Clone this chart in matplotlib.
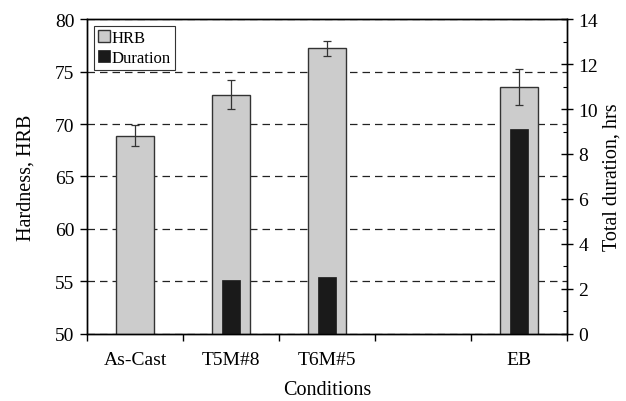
import matplotlib.pyplot as plt
import numpy as np
from matplotlib.ticker import MultipleLocator

plt.rcParams['font.family'] = ['Liberation Serif', 'DejaVu Serif']

# data
conditions = ['As-Cast', 'T5M#8', 'T6M#5', '', 'EB']
hrb = [68.9, 72.8, 77.2, np.nan, 73.5]
hrb_err = [1.0, 1.4, 0.7, np.nan, 1.7]
duration = [0.0, 2.4, 2.55, np.nan, 9.1]

x = np.arange(len(conditions))

fig = plt.figure(figsize=(6.26, 4.02), dpi=100)
ax = fig.add_axes([0.139, 0.167, 0.767, 0.783])
ax2 = ax.twinx()

b1 = ax.bar(x, hrb, width=0.4, color='#cccccc', edgecolor='#333333',
            linewidth=1.0, label='HRB', zorder=2)
ax.errorbar(x, hrb, yerr=hrb_err, fmt='none', ecolor='#333333',
            elinewidth=0.9, capsize=3, capthick=0.9, zorder=3)
b2 = ax2.bar(x, duration, width=0.19, color='#1a1a1a', edgecolor='#1a1a1a',
             linewidth=0.5, label='Duration', zorder=2)

ax.set_ylim(50, 80)
ax.set_yticks(np.arange(50, 81, 5))
ax2.set_ylim(0, 14)
ax2.set_yticks(np.arange(0, 15, 2))
ax2.yaxis.set_minor_locator(MultipleLocator(1))
ax.set_xlim(-0.5, len(conditions) - 0.5)

# category labels in the middle, tick marks at the slot boundaries
ax.set_xticks(x)
ax.set_xticklabels(conditions, fontsize=14)
ax.tick_params(axis='x', which='major', length=0, pad=12)
ax.set_xticks(np.arange(-0.5, len(conditions)), minor=True)
ax.tick_params(axis='x', which='minor', length=5, direction='out', width=1)

ax.tick_params(axis='y', labelsize=14, direction='out', length=5, width=1, pad=4)
ax2.tick_params(axis='y', which='major', labelsize=14, direction='inout',
                length=8, width=1, pad=4)
ax2.tick_params(axis='y', which='minor', direction='in', length=3, width=0.8)

for a in (ax, ax2):
    for s in a.spines.values():
        s.set_linewidth(1.0)

ax.yaxis.grid(True, linestyle=(0, (6, 4)), color='#222222', linewidth=0.9)
ax.set_axisbelow(True)

ax.set_ylabel('Hardness, HRB', fontsize=14.5, labelpad=14)
ax2.set_ylabel('Total duration, hrs', fontsize=14.5, labelpad=3)
ax.set_xlabel('Conditions', fontsize=14.5, labelpad=9)

leg = ax2.legend([b1, b2], ['HRB', 'Duration'], loc='upper left',
                 fancybox=False, edgecolor='#333333', fontsize=12,
                 handlelength=0.7, handleheight=0.7, handletextpad=0.15,
                 borderpad=0.25, labelspacing=0.25, borderaxespad=0.4,
                 framealpha=1)
leg.get_frame().set_linewidth(0.8)

plt.savefig('out.png', dpi=100)
plt.close()
